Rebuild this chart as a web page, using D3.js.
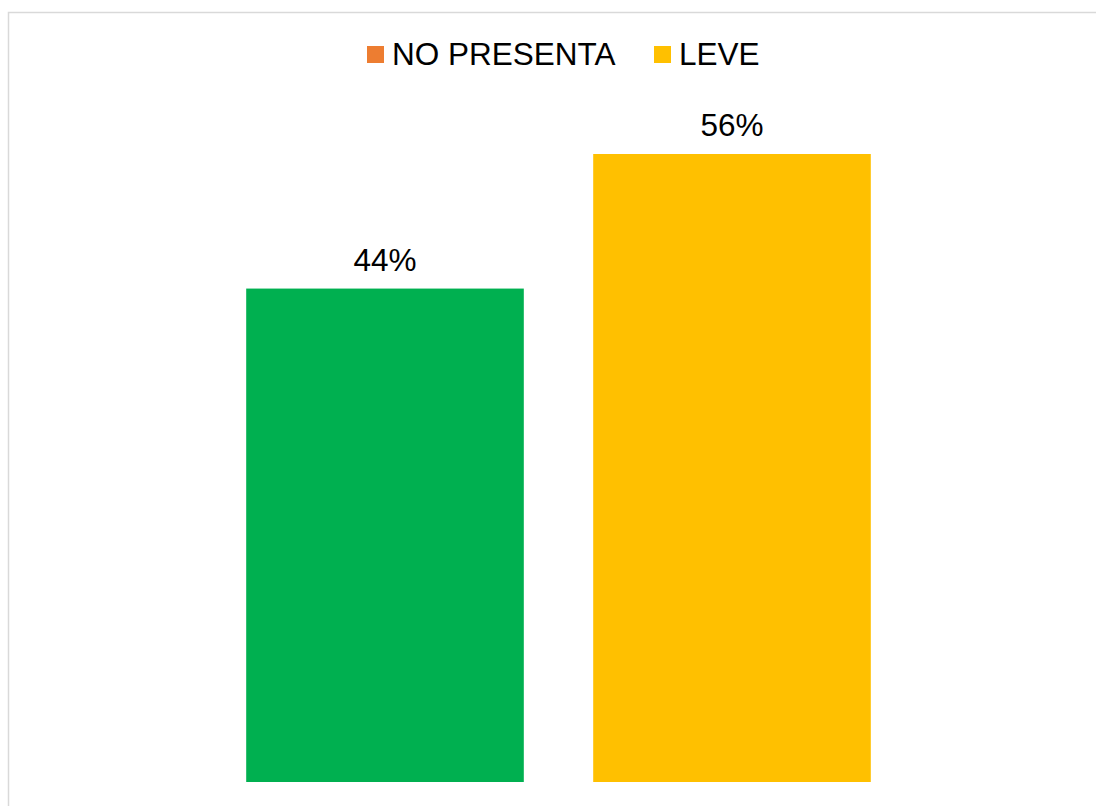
<!DOCTYPE html>
<html>
<head>
<meta charset="utf-8">
<script src="https://cdn.jsdelivr.net/npm/d3@7"></script>
<style>
  html, body { margin: 0; padding: 0; background: #fff; }
  svg { display: block; }
  text { font-family: "Liberation Sans", Arial, sans-serif; }
</style>
</head>
<body>
<svg id="chart" width="1096" height="806"></svg>
<script>
const categories = ["NO PRESENTA", "LEVE"];
const values = [0.44, 0.56];
const barColors = ["#00B050", "#FFC000"];
const legendLabels = ["NO PRESENTA", "LEVE"];
const legendColors = ["#ED7D31", "#FFC000"];

const svg = d3.select("#chart");

// chart border
svg.append("rect")
  .attr("x", 8.5).attr("y", 12.5)
  .attr("width", 1200).attr("height", 900)
  .attr("fill", "#fff")
  .attr("stroke", "#D9D9D9")
  .attr("stroke-width", 1.5);

const x = d3.scaleBand()
  .domain(categories)
  .range([211.5, 905.5])
  .paddingInner(0.2)
  .paddingOuter(0.1);

const y = d3.scaleLinear()
  .domain([0, 0.6])
  .range([782, 782 - 0.6 * (628 / 0.56)]);

const data = categories.map((c, i) => ({ c, v: values[i], color: barColors[i] }));

svg.append("g").selectAll("rect")
  .data(data)
  .join("rect")
  .attr("x", d => x(d.c))
  .attr("y", d => y(d.v))
  .attr("width", x.bandwidth())
  .attr("height", d => y(0) - y(d.v))
  .attr("fill", d => d.color);

svg.append("g").selectAll("text")
  .data(data)
  .join("text")
  .attr("x", d => x(d.c) + x.bandwidth() / 2)
  .attr("y", d => y(d.v) - 18)
  .attr("text-anchor", "middle")
  .attr("font-size", 31.5)
  .attr("fill", "#000")
  .text(d => d3.format(".0%")(d.v));

// legend
const legendItems = [
  { label: legendLabels[0], color: legendColors[0], sx: 367, tx: 392 },
  { label: legendLabels[1], color: legendColors[1], sx: 654, tx: 679 }
];
const lg = svg.append("g");
lg.selectAll("rect")
  .data(legendItems)
  .join("rect")
  .attr("x", d => d.sx).attr("y", 46)
  .attr("width", 17).attr("height", 17)
  .attr("fill", d => d.color);
lg.selectAll("text")
  .data(legendItems)
  .join("text")
  .attr("x", d => d.tx).attr("y", 65)
  .attr("font-size", 31.5)
  .attr("fill", "#000")
  .text(d => d.label);
</script>
</body>
</html>
